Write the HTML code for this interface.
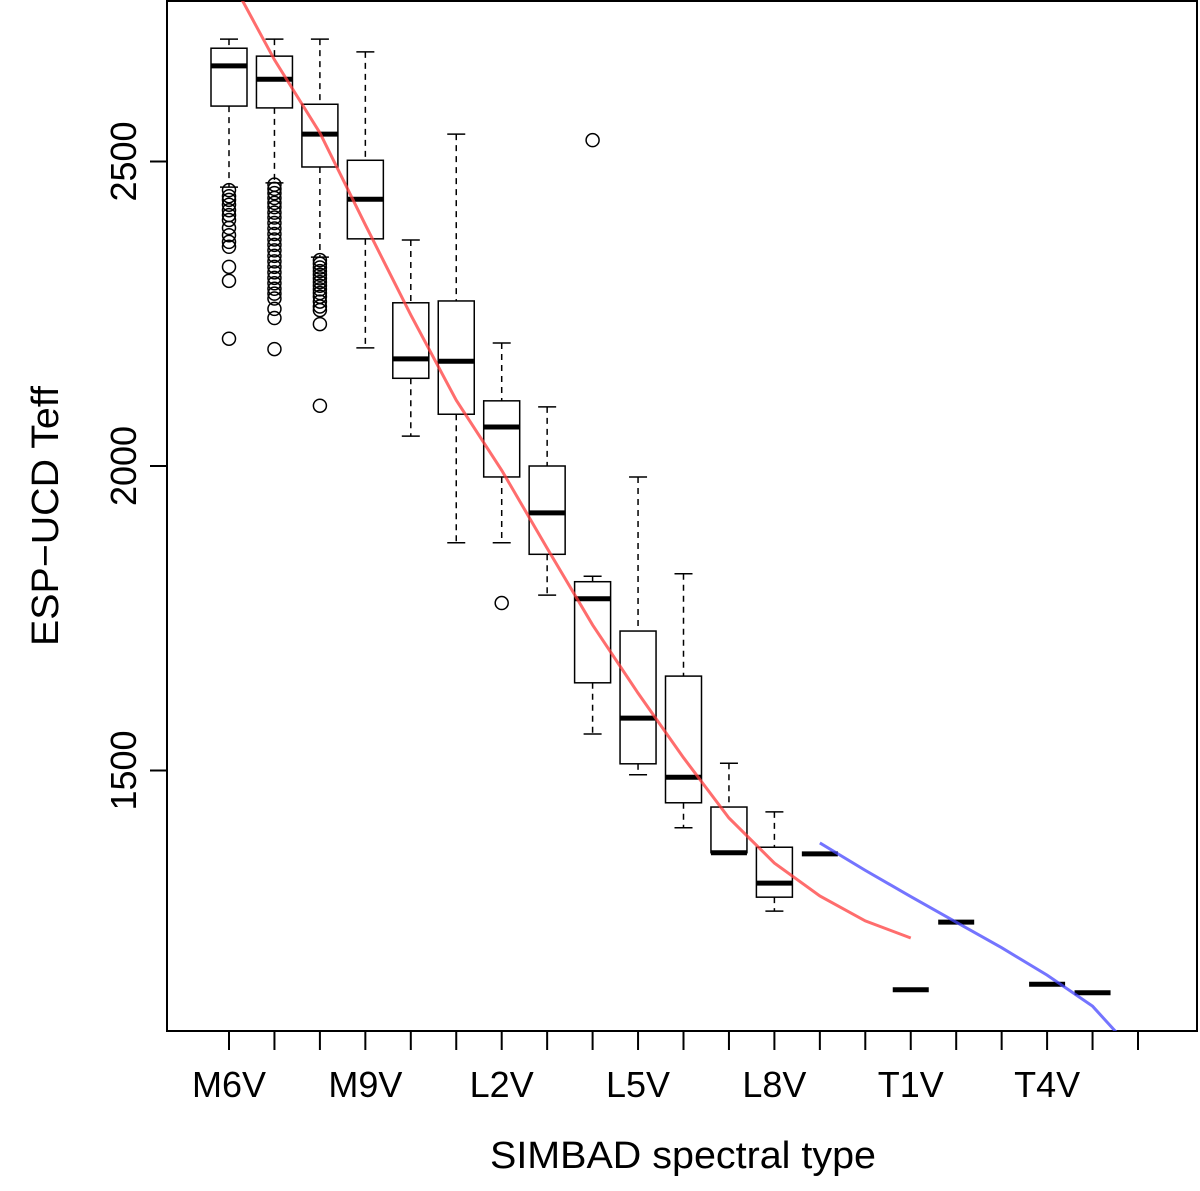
<!DOCTYPE html>
<html><head><meta charset="utf-8"><style>
html,body{margin:0;padding:0;background:#fff;}
svg{display:block;font-family:"Liberation Sans",Arial,sans-serif;}
</style></head><body>
<svg id="chart" width="1200" height="1191" viewBox="0 0 1200 1191" xmlns="http://www.w3.org/2000/svg">
<rect x="167" y="1" width="1030" height="1030" fill="none" stroke="#000" stroke-width="2"/>
<g id="marks"></g>
<text x="683" y="1168" font-size="38" text-anchor="middle" textLength="386" lengthAdjust="spacingAndGlyphs">SIMBAD spectral type</text>
<text transform="translate(58,516) rotate(-90)" font-size="38" text-anchor="middle" textLength="260" lengthAdjust="spacingAndGlyphs">ESP−UCD Teff</text>
</svg>
<script>
const categories = ["M6V","M7V","M8V","M9V","L0V","L1V","L2V","L3V","L4V","L5V","L6V","L7V","L8V","L9V","T0V","T1V","T2V","T3V","T4V","T5V","T6V"];
const whiskerHigh = [2701,2701,2701,2680,2371,2545,2202,2097,1819,1982,1823,1512,1432,1363,null,1140,1251,null,1149,1135,null];
const boxHigh     = [2686,2673,2594,2502,2268,2271,2107,2000,1810,1729,1655,1440,1374,1363,null,1140,1251,null,1149,1135,null];
const medians     = [2657,2635,2545,2438,2176,2172,2064,1923,1782,1586,1489,1365,1315,1363,null,1140,1251,null,1149,1135,null];
const boxLow      = [2591,2588,2491,2373,2144,2085,1982,1855,1644,1511,1447,1365,1292,1363,null,1140,1251,null,1149,1135,null];
const whiskerLow  = [2458,2465,2343,2194,2049,1874,1874,1788,1560,1493,1406,1365,1269,1363,null,1140,1251,null,1149,1135,null];
const outliersM6 = [2453,2443,2437,2429,2420,2412,2404,2391,2379,2368,2360,2327,2304,2209];
const outliersM7 = [2462,2455,2448,2440,2432,2425,2416,2408,2399,2390,2381,2372,2363,2354,2345,2336,2327,2318,2309,2300,2291,2283,2275,2258,2243,2192];
const outliersM8 = [2338,2332,2326,2320,2314,2308,2302,2296,2290,2284,2278,2270,2262,2256,2233,2099];
const outliersL2 = [1775];
const outliersL4 = [2535];
const redCats = [0,1,2,3,4,5,6,7,8,9,10,11,12,13,14,15];
const redValues = [2805,2667,2547,2396,2248,2108,1993,1865,1739,1627,1521,1422,1348,1294,1253,1225];
const blueCats = [13,14,15,16,17,18,19,20];
const blueValues = [1381,1336,1293,1251,1209,1164,1113,1031];
const yTicks = [1500,2000,2500];
const xLabelIdx = [0,3,6,9,12,15,18];

const NS="http://www.w3.org/2000/svg";
const g=document.getElementById('marks');
function xS(i){return 229+i*45.45;}
function yS(v){return 466-(v-2000)*0.609;}
function mk(tag,attrs,parent){const e=document.createElementNS(NS,tag);for(const k in attrs)e.setAttribute(k,attrs[k]);(parent||g).appendChild(e);return e;}
const clip=mk('clipPath',{id:'pc'});mk('rect',{x:167,y:1,width:1030,height:1030},clip);
const hw=18;
categories.forEach((c,i)=>{
  if(medians[i]===null)return;
  const x=xS(i);
  const grp=mk('g',{});
  
  
  if(whiskerHigh[i]>boxHigh[i]){
    mk('line',{x1:x,x2:x,y1:yS(whiskerHigh[i]),y2:yS(boxHigh[i]),stroke:'#000','stroke-width':1.5,'stroke-dasharray':'6,5'},grp);
    mk('line',{x1:x-hw/2,x2:x+hw/2,y1:yS(whiskerHigh[i]),y2:yS(whiskerHigh[i]),stroke:'#000','stroke-width':1.5},grp);
  }
  if(whiskerLow[i]<boxLow[i]){
    mk('line',{x1:x,x2:x,y1:yS(boxLow[i]),y2:yS(whiskerLow[i]),stroke:'#000','stroke-width':1.5,'stroke-dasharray':'6,5'},grp);
    mk('line',{x1:x-hw/2,x2:x+hw/2,y1:yS(whiskerLow[i]),y2:yS(whiskerLow[i]),stroke:'#000','stroke-width':1.5},grp);
  }
  if(boxHigh[i]>boxLow[i]){
    mk('rect',{x:x-hw,y:yS(boxHigh[i]),width:2*hw,height:yS(boxLow[i])-yS(boxHigh[i]),fill:'none',stroke:'#000','stroke-width':1.5},grp);
  }
  mk('line',{x1:x-hw,x2:x+hw,y1:yS(medians[i]),y2:yS(medians[i]),stroke:'#000','stroke-width':5},grp);
});
[[0,outliersM6],[1,outliersM7],[2,outliersM8],[6,outliersL2],[8,outliersL4]].forEach(([i,arr])=>{
  arr.forEach(v=>{
    const c=mk('circle',{cx:xS(i),cy:yS(v),r:6.5,fill:'none',stroke:'#000','stroke-width':1.5});
    
    
  });
});
function line(cats,vals,col,name){
  const p=mk('polyline',{points:cats.map((c,k)=>xS(c)+','+yS(vals[k])).join(' '),fill:'none',stroke:col,'stroke-width':3,'clip-path':'url(#pc)'});
  
  
}
line(redCats,redValues,'rgba(255,60,60,0.75)','red-fit-line');
line(blueCats,blueValues,'rgba(70,70,255,0.75)','blue-fit-line');
categories.forEach((c,i)=>{
  const t=mk('line',{x1:xS(i),x2:xS(i),y1:1031,y2:1050,stroke:'#000','stroke-width':2});
  
  
});
xLabelIdx.forEach(i=>{
  const t=mk('text',{x:xS(i),y:1097,'font-size':36,'text-anchor':'middle'});
  t.textContent=categories[i];
  
  
});
yTicks.forEach(v=>{
  const t=mk('line',{x1:150,x2:167,y1:yS(v),y2:yS(v),stroke:'#000','stroke-width':2});
  
  
  const l=mk('text',{transform:'translate(136,'+yS(v)+') rotate(-90)','font-size':36,'text-anchor':'middle'});
  l.textContent=v;
  
  
});
</script>
</body></html>
